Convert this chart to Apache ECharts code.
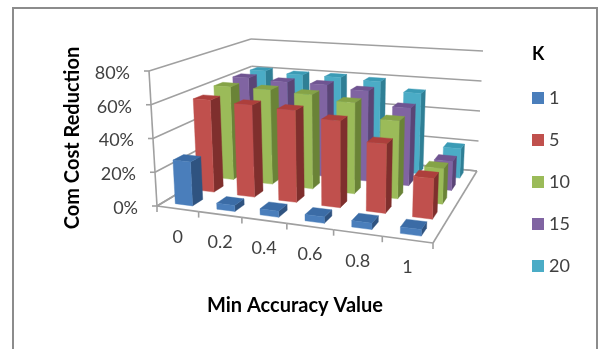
<!DOCTYPE html>
<html>
<head>
<meta charset="utf-8">
<style>
html, body { margin: 0; padding: 0; background: #fff; }
#chart { width: 599px; height: 349px; }
</style>
<script src="https://cdn.jsdelivr.net/npm/echarts@6/dist/echarts.min.js"></script>
</head>
<body>
<div id="chart"></div>
<script>
// values
const categories = ['0', '0.2', '0.4', '0.6', '0.8', '1'];
const yTicks = [0, 0.2, 0.4, 0.6, 0.8];
const yTickLabels = ['0%', '20%', '40%', '60%', '80%'];
const kNames = ['1', '5', '10', '15', '20'];
const k1 = [0.26, 0.035, 0.035, 0.035, 0.035, 0.035];
const k5 = [0.57, 0.56, 0.55, 0.51, 0.4, 0.23];
const k10 = [0.6, 0.6, 0.59, 0.56, 0.47, 0.21];
const k15 = [0.61, 0.6, 0.6, 0.58, 0.49, 0.18];
const k20 = [0.61, 0.6, 0.6, 0.59, 0.53, 0.19];
const kValues = [k1, k5, k10, k15, k20];

const front = ['#4a7ebb', '#c0504d', '#9bbb59', '#8064a2', '#4bacc6'];
const top_ = ['#3b6ca6', '#ad3f3c', '#85a347', '#6f5491', '#3b9bb5'];
const side = ['#2f5380', '#7f2f2d', '#6a8337', '#5a4576', '#2f7f95'];

const textColor = '#404040';
const lineColor = '#a0a0a0';
const fontName = 'Lato';

// box corners on the page: front-left, front-right, back-right, back-left
const floorQuad = [[157, 206], [433, 243], [477, 171], [254, 148]];
const roofQuad = [[149, 71], [438, 91], [483, 51], [251, 39]];

function makeHomography(q) {
  const [x0, y0] = q[0], [x1, y1] = q[1], [x2, y2] = q[2], [x3, y3] = q[3];
  const dx1 = x1 - x2, dx2 = x3 - x2, sx = x0 - x1 + x2 - x3;
  const dy1 = y1 - y2, dy2 = y3 - y2, sy = y0 - y1 + y2 - y3;
  const den = dx1 * dy2 - dx2 * dy1;
  const g = (sx * dy2 - dx2 * sy) / den;
  const h = (dx1 * sy - sx * dy1) / den;
  const a = x1 - x0 + g * x1, b = x3 - x0 + h * x3;
  const d = y1 - y0 + g * y1, e = y3 - y0 + h * y3;
  return (u, v) => {
    const w = g * u + h * v + 1;
    return [(a * u + b * v + x0) / w, (d * u + e * v + y0) / w];
  };
}
const floorAt = makeHomography(floorQuad);
const roofAt = makeHomography(roofQuad);

// u along categories, v into the depth, w up the value axis (all 0..1)
function project(u, v, w) {
  const p = floorAt(u, v), q = roofAt(u, v);
  return [p[0] + (q[0] - p[0]) * w, p[1] + (q[1] - p[1]) * w];
}

const barWidth = 0.21;   // half width in category units
const barDepth = 0.23;   // half depth in row units

function norm(params, pt) {
  const cs = params.coordSys;
  return [(pt[0] - cs.x) / cs.width, (cs.y + cs.height - pt[1]) / cs.height];
}

function barRenderer(row) {
  return function (params, api) {
    const cat = api.value(0);
    const a = norm(params, api.coord([cat + 0.5 - barWidth, 0]));
    const b = norm(params, api.coord([cat + 0.5 + barWidth, api.value(1)]));
    const v0 = (row + 0.5 - barDepth) / kNames.length;
    const v1 = (row + 0.5 + barDepth) / kNames.length;
    const fl = project(a[0], v0, 0), fr = project(b[0], v0, 0);
    const br = project(b[0], v1, 0);
    const tfl = project(a[0], v0, b[1]), tfr = project(b[0], v0, b[1]);
    const tbl = project(a[0], v1, b[1]), tbr = project(b[0], v1, b[1]);
    const face = (points, fill) => ({
      type: 'polygon', shape: { points }, style: { fill, stroke: fill, lineWidth: 0.4 }
    });
    return {
      type: 'group',
      children: [
        face([fr, br, tbr, tfr], side[row]),
        face([tfl, tfr, tbr, tbl], top_[row]),
        face([fl, fr, tfr, tfl], front[row])
      ]
    };
  };
}

function gridLine(a, b) {
  return {
    type: 'line',
    shape: { x1: a[0], y1: a[1], x2: b[0], y2: b[1] },
    style: { stroke: lineColor, lineWidth: 1.6 }
  };
}

function wallRenderer(params, api) {
  const w = norm(params, api.coord([0, api.value(0)]))[1];
  const fl = project(0, 0, w), bl = project(0, 1, w), br = project(1, 1, w);
  return {
    type: 'group',
    children: [
      gridLine(fl, bl),
      gridLine(bl, br),
      gridLine([fl[0] - 5, fl[1]], fl),
      {
        type: 'text',
        style: {
          x: fl[0] - 19, y: fl[1] + 2, text: yTickLabels[params.dataIndex],
          align: 'right', verticalAlign: 'middle',
          fill: textColor, font: '18px ' + fontName
        }
      }
    ]
  };
}

function floorRenderer(params, api) {
  const i = params.dataIndex;
  const u0 = norm(params, api.coord([i, 0]))[0];
  const u1 = norm(params, api.coord([i + 1, 0]))[0];
  const uc = norm(params, api.coord([i + 0.5, 0]))[0];
  const a = project(u0, 0, 0), b = project(u1, 0, 0), c = project(uc, 0, 0);
  const children = [
    gridLine(a, b),
    gridLine(b, [b[0], b[1] + 6]),
    {
      type: 'text',
      style: {
        x: c[0], y: c[1] + 28, text: categories[i],
        align: 'center', verticalAlign: 'middle',
        fill: textColor, font: '18px ' + fontName
      }
    }
  ];
  if (i === 0) {
    children.push(gridLine(a, [a[0], a[1] + 6]));
    children.push(gridLine(a, project(0, 1, 0)));
    children.push(gridLine(project(0, 0, 0), project(0, 0, 1)));
    children.push(gridLine(project(0, 1, 0), project(1, 1, 0)));
    children.push(gridLine(project(1, 0, 0), project(1, 1, 0)));
  }
  return { type: 'group', children };
}

const series = [
  {
    type: 'custom', name: 'walls', silent: true, clip: false,
    renderItem: wallRenderer,
    data: yTicks.map(v => [v])
  },
  {
    type: 'custom', name: 'floor', silent: true, clip: false,
    renderItem: floorRenderer,
    data: categories.map((c, i) => [i])
  }
];
// back rows first so the nearer ones cover them
for (let row = kNames.length - 1; row >= 0; row--) {
  series.push({
    type: 'custom',
    name: kNames[row],
    clip: false,
    silent: true,
    itemStyle: { color: front[row] },
    renderItem: barRenderer(row),
    data: kValues[row].map((v, i) => [i, v])
  });
}

const chart = echarts.init(document.getElementById('chart'), null, { renderer: 'canvas' });
chart.setOption({
  animation: false,
  backgroundColor: '#fff',
  textStyle: { fontFamily: fontName },
  title: {
    text: 'K', left: 527, top: 40,
    textStyle: { fontFamily: fontName, fontSize: 18, fontWeight: 'bold', color: '#000' }
  },
  legend: {
    data: kNames,
    orient: 'vertical',
    left: 532, top: 89,
    padding: 0,
    icon: 'rect',
    itemWidth: 12, itemHeight: 12, itemGap: 24,
    selectedMode: false,
    textStyle: { color: textColor, fontSize: 18, fontFamily: fontName }
  },
  graphic: [{
    type: 'rect',
    shape: { x: 13, y: 8, width: 584, height: 400 },
    style: { fill: 'none', stroke: '#8c8c8c', lineWidth: 2 },
    silent: true, z: 100
  }],
  grid: { left: 150, top: 63, width: 290, height: 150 },
  xAxis: {
    type: 'value', min: 0, max: categories.length,
    name: 'Min Accuracy Value', nameLocation: 'middle', nameGap: 83,
    nameTextStyle: { fontFamily: fontName, fontSize: 20, fontWeight: 'bold', color: '#000' },
    axisLine: { show: false }, axisTick: { show: false },
    axisLabel: { show: false }, splitLine: { show: false }
  },
  yAxis: {
    type: 'value', min: 0, max: 0.8, interval: 0.2,
    name: 'Com Cost Reduction', nameLocation: 'middle', nameGap: 67, nameRotate: 90,
    nameTextStyle: { fontFamily: fontName, fontSize: 20, fontWeight: 'bold', color: '#000' },
    axisLine: { show: false }, axisTick: { show: false },
    axisLabel: { show: false }, splitLine: { show: false }
  },
  series
});
</script>
</body>
</html>
